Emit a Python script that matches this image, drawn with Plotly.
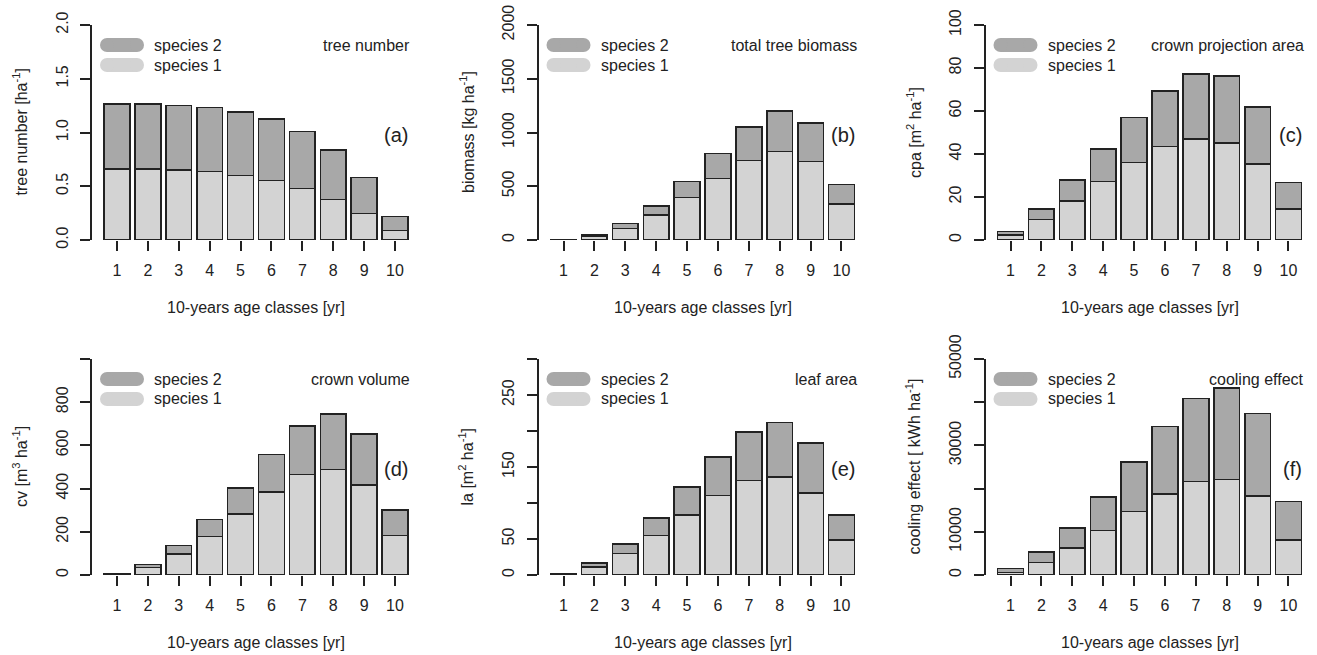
import plotly.graph_objects as go

W, H = 1317, 655

age_classes = [str(i) for i in range(1, 11)]
bar_centers = [0.7 + 1.2 * i for i in range(10)]

# panel data: total (species 1 + species 2) and species 1
tree_total = [1.265, 1.265, 1.25, 1.234, 1.188, 1.126, 1.008, 0.837, 0.583, 0.217]
tree_sp1 = [0.66, 0.66, 0.651, 0.636, 0.60, 0.552, 0.478, 0.378, 0.248, 0.087]

biomass_total = [5, 47, 152, 319, 546, 806, 1054, 1200, 1091, 518]
biomass_sp1 = [3, 32, 108, 233, 397, 574, 738, 822, 729, 335]

cpa_total = [3.9, 14.4, 27.9, 42.3, 56.9, 69.3, 77.1, 76.3, 61.9, 26.8]
cpa_sp1 = [2.3, 9.5, 18.1, 27.3, 36.1, 43.4, 47.0, 45.0, 35.3, 14.4]

cv_total = [5, 49.5, 136, 257, 404, 558, 690, 746, 654, 300]
cv_sp1 = [3, 34, 96, 178, 282, 384, 466, 489, 418, 183]

la_total = [2, 16.7, 43, 79, 122, 164, 199, 212, 183, 83]
la_sp1 = [1, 11, 30, 55, 83.5, 110.6, 131, 136, 114, 49]

cool_total = [1470, 5260, 10830, 18020, 26140, 34340, 40840, 43310, 37360, 17010]
cool_sp1 = [620, 2940, 6190, 10290, 14700, 18790, 21650, 22120, 18330, 8040]

panels = [
    dict(total=tree_total, sp1=tree_sp1, yr=[0, 2.0],
         tv=[0, 0.5, 1.0, 1.5, 2.0], tt=["0.0", "0.5", "1.0", "1.5", "2.0"], mv=[],
         ytitle="tree number [ha<sup>-1</sup>]", name="tree number", tag="(a)"),
    dict(total=biomass_total, sp1=biomass_sp1, yr=[0, 2000],
         tv=[0, 500, 1000, 1500, 2000], tt=["0", "500", "1000", "1500", "2000"], mv=[],
         ytitle="biomass [kg ha<sup>-1</sup>]", name="total tree biomass", tag="(b)"),
    dict(total=cpa_total, sp1=cpa_sp1, yr=[0, 100],
         tv=[0, 20, 40, 60, 80, 100], tt=["0", "20", "40", "60", "80", "100"], mv=[],
         ytitle="cpa [m<sup>2</sup> ha<sup>-1</sup>]", name="crown projection area", tag="(c)"),
    dict(total=cv_total, sp1=cv_sp1, yr=[0, 1000],
         tv=[0, 200, 400, 600, 800], tt=["0", "200", "400", "600", "800"], mv=[1000],
         ytitle="cv [m<sup>3</sup> ha<sup>-1</sup>]", name="crown volume", tag="(d)"),
    dict(total=la_total, sp1=la_sp1, yr=[0, 300],
         tv=[0, 50, 150, 250], tt=["0", "50", "150", "250"], mv=[100, 200, 300],
         ytitle="la [m<sup>2</sup> ha<sup>-1</sup>]", name="leaf area", tag="(e)"),
    dict(total=cool_total, sp1=cool_sp1, yr=[0, 50000],
         tv=[0, 10000, 30000, 50000], tt=["0", "10000", "30000", "50000"],
         mv=[20000, 40000],
         ytitle="cooling effect [ kWh ha<sup>-1</sup>]", name="cooling effect", tag="(f)"),
]

col_left = [92, 538.5, 985.5]
plot_w = 328
row_bottom = [240, 575]
row_top = [25, 359]

DARK = "#a8a8a8"
LIGHT = "#d3d3d3"
INK = "#222222"
FONT = "Liberation Sans"


def px(x):
    return x / W


def py(y):
    return 1 - y / H


fig = go.Figure()
shapes = []
annotations = []

for k, p in enumerate(panels):
    r, c = divmod(k, 3)
    xl = col_left[c]
    yb, yt = row_bottom[r], row_top[r]
    xa = "x" if k == 0 else f"x{k+1}"
    ya = "y" if k == 0 else f"y{k+1}"
    sp2 = [t - s for t, s in zip(p["total"], p["sp1"])]
    fig.add_trace(go.Bar(x=bar_centers, y=p["sp1"], width=1.0, xaxis=xa, yaxis=ya,
                         marker=dict(color=LIGHT, line=dict(color=INK, width=1.6)),
                         showlegend=False, name="species 1"))
    fig.add_trace(go.Bar(x=bar_centers, y=sp2, width=1.0, xaxis=xa, yaxis=ya,
                         marker=dict(color=DARK, line=dict(color=INK, width=1.6)),
                         showlegend=False, name="species 2"))
    xkey = "xaxis" if k == 0 else f"xaxis{k+1}"
    ykey = "yaxis" if k == 0 else f"yaxis{k+1}"
    yaxis = dict(domain=[py(yb), py(yt)], anchor=xa, range=p["yr"], automargin=False,
                 showgrid=False, zeroline=False, showline=True, linecolor=INK,
                 linewidth=1.5, ticks="outside", ticklen=10, tickwidth=1.5,
                 tickcolor=INK, tickmode="array", tickvals=p["tv"], ticktext=p["tt"],
                 tickangle=-90, tickfont=dict(size=16, color=INK, family=FONT),
                 ticklabelstandoff=6, fixedrange=True)
    if p["mv"]:
        yaxis["minor"] = dict(tickmode="array", tickvals=p["mv"], ticks="outside",
                              ticklen=10, tickwidth=1.5, tickcolor=INK, showgrid=False)
    fig.update_layout(**{
        xkey: dict(domain=[px(xl), px(xl + plot_w)], anchor=ya, automargin=False,
                   range=[-0.272, 12.472], showgrid=False, zeroline=False,
                   showline=False, ticks="outside", ticklen=10, tickwidth=1.5,
                   tickcolor=INK, tickmode="array", tickvals=bar_centers,
                   ticktext=age_classes,
                   tickfont=dict(size=16, color=INK, family=FONT),
                   ticklabelstandoff=6, fixedrange=True),
        ykey: yaxis,
    })

    # legend pills
    for yc, col, lab in [(yt + 20, DARK, "species 2"), (yt + 40, LIGHT, "species 1")]:
        x0, x1, h = xl + 8, xl + 52, 14
        rr = h / 2
        shapes.append(dict(type="rect", xref="paper", yref="paper",
                           x0=px(x0 + rr), x1=px(x1 - rr), y0=py(yc + rr), y1=py(yc - rr),
                           fillcolor=col, line=dict(width=0), layer="above"))
        for cx in (x0 + rr, x1 - rr):
            shapes.append(dict(type="circle", xref="paper", yref="paper",
                               x0=px(cx - rr), x1=px(cx + rr), y0=py(yc + rr), y1=py(yc - rr),
                               fillcolor=col, line=dict(width=0), layer="above"))
        annotations.append(dict(x=px(xl + 60), y=py(yc), xref="paper", yref="paper",
                                text=lab, showarrow=False, xanchor="left", yanchor="middle",
                                font=dict(size=16, color=INK, family=FONT)))
    annotations.append(dict(x=px(xl + 320), y=py(yt + 20), xref="paper", yref="paper",
                            text=p["name"], showarrow=False, xanchor="right", yanchor="middle",
                            font=dict(size=16, color=INK, family=FONT)))
    annotations.append(dict(x=px(xl + 318), y=py(yt + 110), xref="paper", yref="paper",
                            text=p["tag"], showarrow=False, xanchor="right", yanchor="middle",
                            font=dict(size=20, color=INK, family=FONT)))
    annotations.append(dict(x=px(xl - 72), y=py((yb + yt) / 2), xref="paper", yref="paper",
                            text=p["ytitle"], showarrow=False, textangle=-90,
                            xanchor="center", yanchor="middle",
                            font=dict(size=16, color=INK, family=FONT)))
    annotations.append(dict(x=px(xl + 164), y=py(yb + 67), xref="paper", yref="paper",
                            text="10-years age classes [yr]", showarrow=False,
                            xanchor="center", yanchor="middle",
                            font=dict(size=16, color=INK, family=FONT)))

fig.update_layout(template="none", width=W, height=H,
                  margin=dict(l=0, r=0, t=0, b=0, autoexpand=False),
                  paper_bgcolor="white", plot_bgcolor="white", barmode="stack",
                  shapes=shapes, annotations=annotations, showlegend=False,
                  font=dict(family=FONT, color=INK))

fig.write_html("out.html", config={"displayModeBar": False},
               post_script="document.body.style.margin='0px';"
                           "document.body.style.overflow='hidden';")
